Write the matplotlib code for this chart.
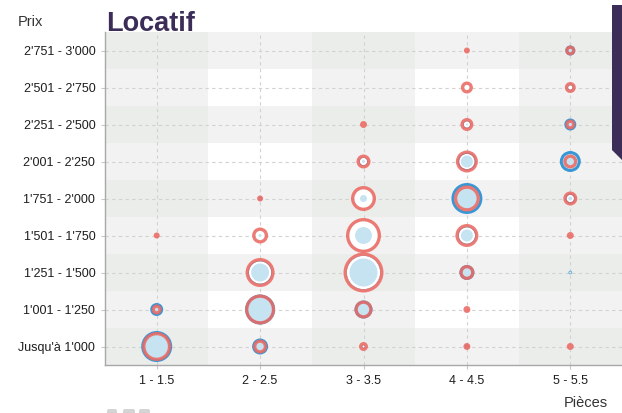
import numpy as np
import matplotlib
matplotlib.use('Agg')
import matplotlib.pyplot as plt
from matplotlib.patches import Polygon, FancyBboxPatch

# categories
pieces = ['1 - 1.5', '2 - 2.5', '3 - 3.5', '4 - 4.5', '5 - 5.5']
prix = ["Jusqu'à 1'000", "1'001 - 1'250", "1'251 - 1'500", "1'501 - 1'750",
        "1'751 - 2'000", "2'001 - 2'250", "2'251 - 2'500", "2'501 - 2'750",
        "2'751 - 3'000"]

# share of listings per (price row, rooms column), rows from bottom to top
offres = [  # red rings
    [10.5, 2.45, 1.0, 0.6, 0.6],
    [1.25, 11.25, 4.05, 0.6, 0.0],
    [0.0, 10.5, 20.0, 2.8, 0.0],
    [0.45, 3.2, 15.3, 6.6, 0.6],
    [0.0, 0.45, 7.8, 8.45, 2.45],
    [0.0, 0.0, 2.45, 6.05, 2.45],
    [0.0, 0.0, 0.6, 2.1, 1.25],
    [0.0, 0.0, 0.0, 1.8, 1.5],
    [0.0, 0.0, 0.0, 0.45, 1.25],
]
demandes = [  # blue discs
    [12.0, 3.2, 0.2, 0.2, 0.0],
    [2.1, 11.25, 4.05, 0.0, 0.0],
    [0.0, 7.2, 14.5, 2.8, 0.1],
    [0.0, 1.0, 6.6, 4.05, 0.0],
    [0.0, 0.1, 2.1, 12.0, 1.25],
    [0.0, 0.0, 1.0, 4.05, 5.5],
    [0.0, 0.0, 0.0, 0.8, 1.8],
    [0.0, 0.0, 0.0, 0.3, 0.45],
    [0.0, 0.0, 0.0, 0.0, 1.25],
]

RED = '#ec6a63'
BLUE = '#3a97d6'
LIGHTBLUE = '#c6e3f2'
PURPLE = '#3b2d58'

W, H, DPI = 622, 413, 100
PX2PT = 72.0 / DPI
SCALE = 4.47  # px of radius per sqrt(unit)
RING = 3.3    # red ring width, px

plt.rcParams['font.family'] = ['Liberation Sans', 'DejaVu Sans']

fig = plt.figure(figsize=(W / DPI, H / DPI), dpi=DPI)
ax = fig.add_axes([105 / W, 1 - 365 / H, 1 - 105 / W, (365 - 32) / H])

# checkerboard background
nrow, ncol = len(prix), len(pieces)
shades = {0: '#ffffff', 1: '#f2f2f2', 2: '#ebedea'}
for r in range(nrow):
    for c in range(ncol):
        lvl = (r % 2 == 0) + (c % 2 == 0)
        ax.add_patch(plt.Rectangle((c + 0.5, r - 0.5), 1, 1,
                                   facecolor=shades[lvl], edgecolor='none',
                                   zorder=0))

ax.set_xlim(0.5, ncol + 0.5)
ax.set_ylim(-0.5, nrow - 0.5)
ax.set_xticks(np.arange(1, ncol + 1))
ax.set_xticklabels(pieces)
ax.set_yticks(np.arange(nrow))
ax.set_yticklabels(prix)
ax.grid(True, color='#d2d2d2', linestyle=(0, (3, 3)), linewidth=0.8, zorder=1)
ax.set_axisbelow(True)
ax.tick_params(length=3, color='#c8c8c8', labelsize=9, pad=4,
               labelcolor='#1e1e1e')
for s in ['top', 'right']:
    ax.spines[s].set_visible(False)
for s in ['left', 'bottom']:
    ax.spines[s].set_color('#a8a8a8')
    ax.spines[s].set_linewidth(1.0)

xx, yy = np.meshgrid(np.arange(1, ncol + 1), np.arange(nrow))
red = np.array(offres, dtype=float)
blue = np.array(demandes, dtype=float)


def msize(radius_px):
    radius_px = np.clip(radius_px, 0.3, None)
    return (2 * radius_px * PX2PT) ** 2


rb = SCALE * np.sqrt(blue)
rr = SCALE * np.sqrt(red)
mb = blue > 0
mr = red > 0

# blue discs with outline
ax.scatter(xx[mb], yy[mb], s=msize(rb[mb] - 1.5), c=LIGHTBLUE,
           edgecolors=BLUE, linewidths=3 * PX2PT, zorder=3)
# white inside of the red rings
mw = mr & (rr > RING + 0.5)
ax.scatter(xx[mw], yy[mw], s=msize(rr[mw] - RING), c='white',
           edgecolors='none', zorder=4)
# blue fill again on top
mf = mb & (rb > 3.5)
ax.scatter(xx[mf], yy[mf], s=msize(np.minimum(rb[mf] - 3, rr[mf])),
           c=LIGHTBLUE, edgecolors='none', zorder=5)
# red rings
ax.scatter(xx[mr], yy[mr], s=msize(rr[mr] - RING / 2), facecolors='none',
           edgecolors=RED, linewidths=RING * PX2PT, alpha=0.88, zorder=6)

fig.text(106 / W, 1 - 31 / H, 'Locatif', fontsize=19.5, fontweight='bold',
         color=PURPLE, ha='left', va='baseline')
fig.text(30 / W, 1 - 22 / H, 'Prix', fontsize=10.5, color='#333333',
         ha='center', va='center')
fig.text(586 / W, 1 - 403 / H, 'Pièces', fontsize=10.5, color='#333333',
         ha='center', va='center')

# side panel
fig.patches.append(Polygon([(612, H - 5), (W, H - 5), (W, H - 160),
                            (612, H - 150)], closed=True,
                           transform=None, facecolor=PURPLE,
                           edgecolor='none', zorder=10))
for x0, x1 in [(107, 117), (123, 135), (139, 150)]:
    fig.patches.append(FancyBboxPatch((x0, -4), x1 - x0, 8,
                                      boxstyle='round,pad=0,rounding_size=2',
                                      transform=None, facecolor='#d4d4d4',
                                      edgecolor='none'))

fig.savefig('out.png', dpi=DPI)
